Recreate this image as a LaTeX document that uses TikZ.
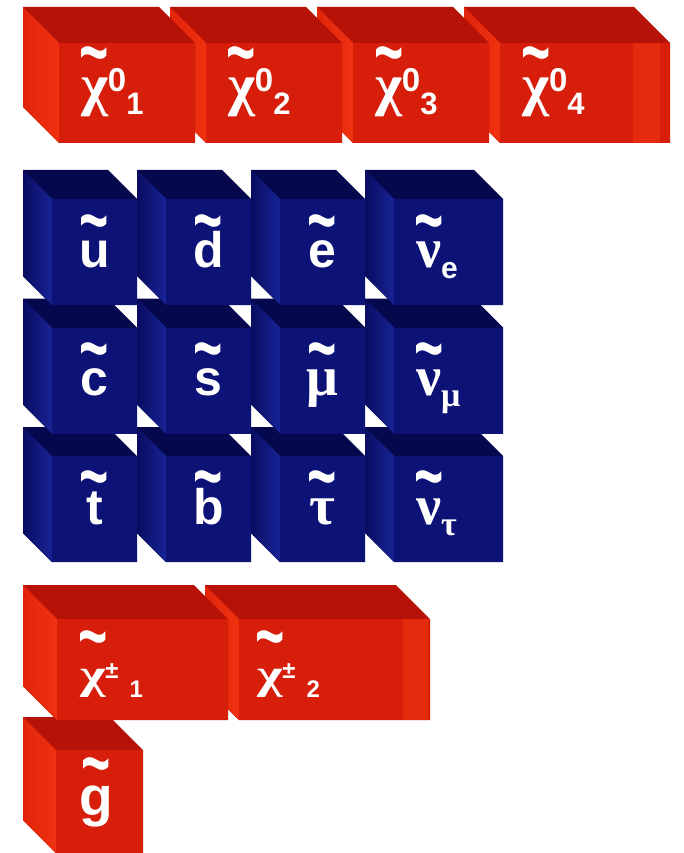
\documentclass[tikz,border=0pt]{standalone}
\usepackage{fontspec}
\usepackage{graphicx}
\setmainfont{Liberation Sans}
\newfontfamily\grk{Liberation Serif}

\definecolor{rfront}{RGB}{214,30,10}
\definecolor{rtop}{RGB}{182,18,8}
\definecolor{rsideA}{RGB}{226,36,12}
\definecolor{rsideB}{RGB}{240,50,16}
\definecolor{bfront}{RGB}{12,18,118}
\definecolor{btop}{RGB}{6,8,78}
\definecolor{bsideA}{RGB}{8,12,96}
\definecolor{bsideB}{RGB}{24,36,150}

\newcommand{\fsz}[1]{\fontsize{#1}{#1}\selectfont}
% back corner x, back corner y, front width, front height, depth, colour set
\newcommand{\drawcube}[6]{%
  \fill[#6top] (#1,#2) -- ++(#3,0) -- ++(#5,#5) -- ++(0,#4) -- ++(-#3,0) -- ++(-#5,-#5) -- cycle;
  \shade[#6side] (#1,#2) -- ++(#5,#5) -- ++(0,#4) -- ++(-#5,-#5) -- cycle;
  \fill[#6front] ({#1+#5},{#2+#5}) rectangle ++(#3,#4);
}
\newcommand{\wave}{{\rmfamily\bfseries\fsz{50}\scalebox{1}[1.6]{\textasciitilde}}}
% tilde raised by #1 and centred over #2
\newcommand{\tildeon}[2]{\leavevmode\setbox0\hbox{#2}\rlap{\hbox to\wd0{\hss\raisebox{#1}{\wave}\hss}}\box0}
\newcommand{\neu}[1]{\tildeon{25pt}{\grk\fsz{58}χ}\raisebox{13pt}{\fsz{33}0}\raisebox{-10pt}{\fsz{31}#1}}
\newcommand{\cha}[1]{\tildeon{25pt}{\scalebox{1.3}[1]{\grk\fsz{42}χ}}\raisebox{10pt}{\fsz{24}±}\hspace{11pt}\raisebox{-9pt}{\fsz{24}#1}}

\begin{document}
\begin{tikzpicture}[
      x=1pt, y=-1pt,
      redtop/.style={rtop},
      redside/.style={left color=rsideA, right color=rsideB},
      redfront/.style={rfront},
      blutop/.style={btop},
      bluside/.style={left color=bsideA, right color=bsideB},
      blufront/.style={bfront},
      strip/.style={fill=rsideB!60!rfront},
      lbl/.style={inner sep=0pt, text=white, font=\bfseries},
      sq/.style={lbl, anchor=base, font=\bfseries\fsz{50}},
      sg/.style={lbl, anchor=base, font=\bfseries\grk\fsz{56}}
    ]
      \fill[white] (0,0) rectangle (683,853);
      \useasboundingbox (0,0) rectangle (683,853);

      % neutralinos
      \drawcube{464}{7}{170}{100}{36}{red}
      \fill[strip] (633,43) rectangle (660,143);
      \drawcube{317}{7}{136}{100}{36}{red}
      \drawcube{170}{7}{136}{100}{36}{red}
      \drawcube{23}{7}{136}{100}{36}{red}

      % squarks and sleptons, bottom row first
      \drawcube{365}{427}{109}{106}{29}{blu}
      \drawcube{251}{427}{85}{106}{29}{blu}
      \drawcube{137}{427}{85}{106}{29}{blu}
      \drawcube{23}{427}{85}{106}{29}{blu}
      \drawcube{365}{298.5}{109}{106}{29}{blu}
      \drawcube{251}{298.5}{85}{106}{29}{blu}
      \drawcube{137}{298.5}{85}{106}{29}{blu}
      \drawcube{23}{298.5}{85}{106}{29}{blu}
      \drawcube{365}{170}{109}{106}{29}{blu}
      \drawcube{251}{170}{85}{106}{29}{blu}
      \drawcube{137}{170}{85}{106}{29}{blu}
      \drawcube{23}{170}{85}{106}{29}{blu}

      % gluino, then charginos over it
      \drawcube{23}{717}{87}{103}{33}{red}
      \drawcube{205}{585}{191}{101}{34}{red}
      \fill[strip] (403,619) rectangle (428,720);
      \drawcube{23}{585}{171}{101}{34}{red}

      \node[lbl, anchor=base west] (neu1) at (81,105) {\neu{1}};
      \node[lbl, anchor=base west] (neu2) at (228,105) {\neu{2}};
      \node[lbl, anchor=base west] (neu3) at (375,105) {\neu{3}};
      \node[lbl, anchor=base west] (neu4) at (522,105) {\neu{4}};

      \node[sq] (su) at (94.5,267) {\tildeon{20pt}{u}};
      \node[sq] (sd) at (208.5,267) {\tildeon{20pt}{d}};
      \node[sq] (se) at (322.5,267) {\tildeon{20pt}{e}};
      \node[lbl, anchor=base west] (snue) at (416,267) {\tildeon{20pt}{\grk\fsz{56}ν}\raisebox{-11pt}{\fsz{30}e}};
      \node[sq] (sc) at (94.5,395.5) {\tildeon{20pt}{c}};
      \node[sq] (ss) at (208.5,395.5) {\tildeon{20pt}{s}};
      \node[sg] (smu) at (322.5,395.5) {\tildeon{20pt}{μ}};
      \node[lbl, anchor=base west] (snumu) at (416,395.5) {\tildeon{20pt}{\grk\fsz{56}ν}\raisebox{-11pt}{\grk\fsz{34}μ}};
      \node[sq] (st) at (94.5,524) {\tildeon{21pt}{t}};
      \node[sq] (sb) at (208.5,524) {\tildeon{21pt}{b}};
      \node[sg] (stau) at (322.5,524) {\tildeon{21pt}{τ}};
      \node[lbl, anchor=base west] (snutau) at (416,524) {\tildeon{21pt}{\grk\fsz{56}ν}\raisebox{-11pt}{\grk\fsz{34}τ}};

      \node[lbl, anchor=base west] (cha1) at (80,688) {\cha{1}};
      \node[lbl, anchor=base west] (cha2) at (257,688) {\cha{2}};

      \node[sq, font=\bfseries\fsz{55}] (glu) at (96,815) {\tildeon{25pt}{g}};
    \end{tikzpicture}
\end{document}
